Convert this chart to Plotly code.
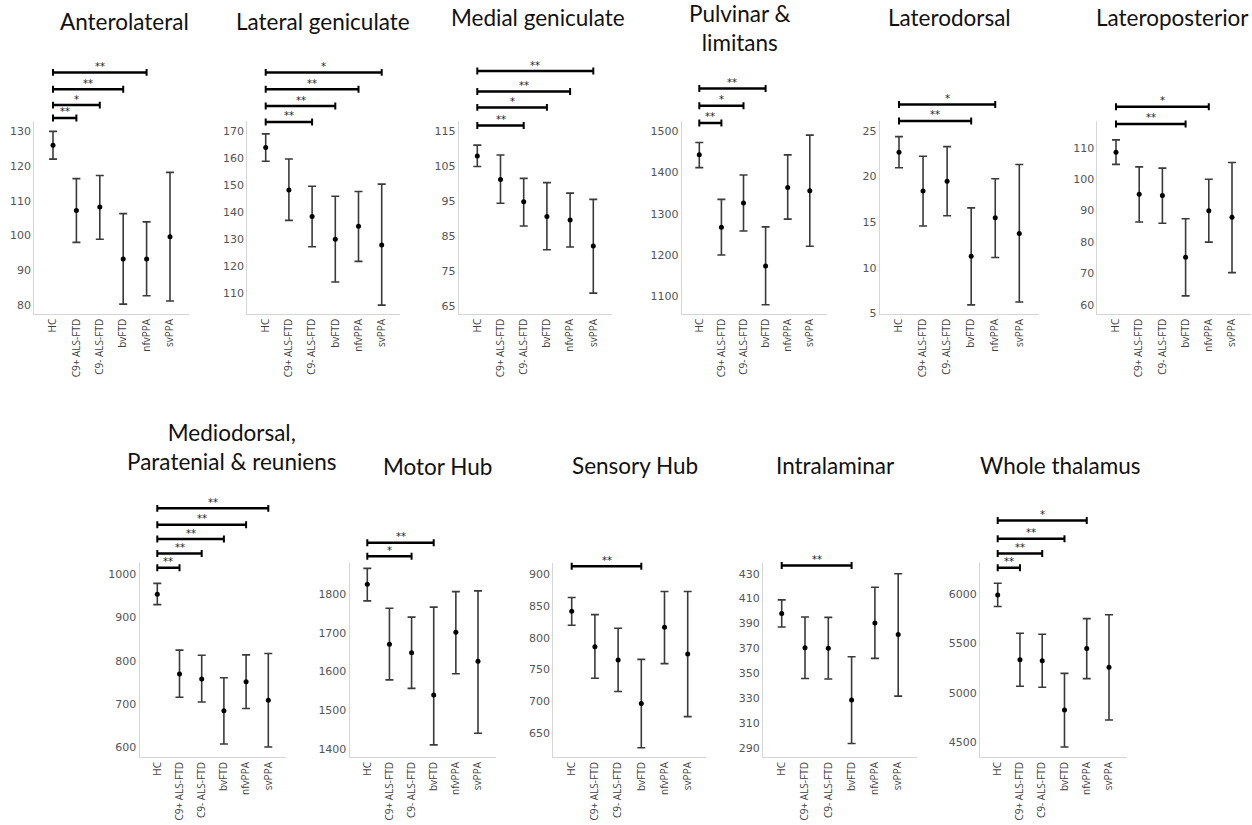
import plotly.graph_objects as go

W, H = 1252, 825

groups = ["HC", "C9+ ALS-FTD", "C9- ALS-FTD", "bvFTD", "nfvPPA", "svPPA"]

titles = ["Anterolateral", "Lateral geniculate", "Medial geniculate", "Pulvinar &<br>limitans",
          "Laterodorsal", "Lateroposterior", "Mediodorsal,<br>Paratenial & reuniens",
          "Motor Hub", "Sensory Hub", "Intralaminar", "Whole thalamus"]

# ---- data: mean, lower and upper bound of interval, y ticks, significant comparisons vs HC
anterolateral_mean = [126.0, 107.2, 108.2, 93.2, 93.2, 99.6]
anterolateral_low = [122.0, 98.0, 98.9, 80.2, 82.6, 81.1]
anterolateral_high = [130.0, 116.4, 117.3, 106.3, 103.9, 118.2]
anterolateral_ticks = [80, 90, 100, 110, 120, 130]
anterolateral_sig = [("C9+ ALS-FTD", "**"), ("C9- ALS-FTD", "*"), ("bvFTD", "**"), ("nfvPPA", "**")]

lateral_gen_mean = [164.0, 148.2, 138.4, 130.0, 134.8, 127.9]
lateral_gen_low = [158.9, 137.0, 127.2, 114.2, 121.8, 105.6]
lateral_gen_high = [169.0, 159.7, 149.6, 145.9, 147.7, 150.4]
lateral_gen_ticks = [110, 120, 130, 140, 150, 160, 170]
lateral_gen_sig = [("C9- ALS-FTD", "**"), ("bvFTD", "**"), ("nfvPPA", "**"), ("svPPA", "*")]

medial_gen_mean = [107.9, 101.2, 94.8, 90.6, 89.6, 82.2]
medial_gen_low = [104.9, 94.4, 87.9, 81.1, 81.9, 68.7]
medial_gen_high = [111.0, 108.2, 101.5, 100.3, 97.3, 95.5]
medial_gen_ticks = [65, 75, 85, 95, 105, 115]
medial_gen_sig = [("C9- ALS-FTD", "**"), ("bvFTD", "*"), ("nfvPPA", "**"), ("svPPA", "**")]

pulvinar_mean = [1443, 1267, 1326, 1173, 1364, 1356]
pulvinar_low = [1412, 1200, 1258, 1079, 1287, 1221]
pulvinar_high = [1473, 1335, 1394, 1268, 1443, 1491]
pulvinar_ticks = [1100, 1200, 1300, 1400, 1500]
pulvinar_sig = [("C9+ ALS-FTD", "**"), ("C9- ALS-FTD", "*"), ("bvFTD", "**")]

laterodorsal_mean = [22.65, 18.41, 19.46, 11.27, 15.48, 13.77]
laterodorsal_low = [20.95, 14.57, 15.70, 5.95, 11.13, 6.27]
laterodorsal_high = [24.35, 22.20, 23.26, 16.56, 19.75, 21.30]
laterodorsal_ticks = [5, 10, 15, 20, 25]
laterodorsal_sig = [("bvFTD", "**"), ("nfvPPA", "*")]

lateroposterior_mean = [108.6, 95.2, 94.8, 75.2, 90.0, 87.9]
lateroposterior_low = [104.7, 86.4, 86.0, 62.9, 80.0, 70.3]
lateroposterior_high = [112.5, 103.9, 103.5, 87.4, 100.0, 105.3]
lateroposterior_ticks = [60, 70, 80, 90, 100, 110]
lateroposterior_sig = [("bvFTD", "**"), ("nfvPPA", "*")]

mediodorsal_mean = [954, 770, 758, 685, 752, 709]
mediodorsal_low = [930, 716, 705, 608, 690, 601]
mediodorsal_high = [979, 825, 813, 761, 814, 817]
mediodorsal_ticks = [600, 700, 800, 900, 1000]
mediodorsal_sig = [("C9+ ALS-FTD", "**"), ("C9- ALS-FTD", "**"), ("bvFTD", "**"), ("nfvPPA", "**"), ("svPPA", "**")]

motor_mean = [1825, 1670, 1648, 1539, 1701, 1626]
motor_low = [1782, 1578, 1556, 1410, 1594, 1440]
motor_high = [1866, 1763, 1740, 1766, 1806, 1808]
motor_ticks = [1400, 1500, 1600, 1700, 1800]
motor_sig = [("C9- ALS-FTD", "*"), ("bvFTD", "**")]

sensory_mean = [841.7, 785.9, 765.1, 696.9, 816.7, 774.5]
sensory_low = [819.8, 736.5, 715.6, 627.0, 759.4, 676.0]
sensory_high = [863.5, 836.5, 815.1, 766.1, 872.9, 872.9]
sensory_ticks = [650, 700, 750, 800, 850, 900]
sensory_sig = [("bvFTD", "**")]

intralaminar_mean = [398.1, 370.5, 370.2, 328.5, 390.4, 381.1]
intralaminar_low = [387.2, 345.8, 345.5, 293.7, 362.0, 331.7]
intralaminar_high = [409.0, 395.2, 394.9, 363.3, 419.1, 430.0]
intralaminar_ticks = [290, 310, 330, 350, 370, 390, 410, 430]
intralaminar_sig = [("bvFTD", "**")]

whole_mean = [5990, 5335, 5325, 4828, 5449, 5259]
whole_low = [5873, 5068, 5058, 4454, 5145, 4727]
whole_high = [6107, 5603, 5593, 5198, 5750, 5790]
whole_ticks = [4500, 5000, 5500, 6000]
whole_sig = [("C9+ ALS-FTD", "**"), ("C9- ALS-FTD", "**"), ("bvFTD", "**"), ("nfvPPA", "*")]

panels_data = [
    (anterolateral_mean, anterolateral_low, anterolateral_high, anterolateral_ticks, anterolateral_sig),
    (lateral_gen_mean, lateral_gen_low, lateral_gen_high, lateral_gen_ticks, lateral_gen_sig),
    (medial_gen_mean, medial_gen_low, medial_gen_high, medial_gen_ticks, medial_gen_sig),
    (pulvinar_mean, pulvinar_low, pulvinar_high, pulvinar_ticks, pulvinar_sig),
    (laterodorsal_mean, laterodorsal_low, laterodorsal_high, laterodorsal_ticks, laterodorsal_sig),
    (lateroposterior_mean, lateroposterior_low, lateroposterior_high, lateroposterior_ticks, lateroposterior_sig),
    (mediodorsal_mean, mediodorsal_low, mediodorsal_high, mediodorsal_ticks, mediodorsal_sig),
    (motor_mean, motor_low, motor_high, motor_ticks, motor_sig),
    (sensory_mean, sensory_low, sensory_high, sensory_ticks, sensory_sig),
    (intralaminar_mean, intralaminar_low, intralaminar_high, intralaminar_ticks, intralaminar_sig),
    (whole_mean, whole_low, whole_high, whole_ticks, whole_sig),
]

# ---- layout (pixels): first-category x, category spacing, plot top, plot bottom, y range,
#      title centre x, title centre y, bracket y (lowest first)
layout_specs = [
    dict(p0=53.0, s=23.4, top=121.7, bot=316.5, yr=[77.4, 133.1], tx=124, ty=22, by=[119, 106, 90, 73]),
    dict(p0=265.7, s=23.2, top=121.7, bot=316.5, yr=[102.4, 173.9], tx=323, ty=22, by=[123, 107, 90, 73]),
    dict(p0=477.3, s=23.2, top=121.7, bot=316.5, yr=[62.8, 118.0], tx=538, ty=18, by=[126.5, 108.3, 92.3, 71.7]),
    dict(p0=699.3, s=22.1, top=121.7, bot=316.5, yr=[1057, 1526], tx=740, ty=28.5, by=[124, 106.7, 89.3]),
    dict(p0=899.0, s=24.06, top=121.7, bot=316.5, yr=[4.97, 26.1], tx=949, ty=18, by=[122, 105.3]),
    dict(p0=1116.0, s=23.2, top=121.7, bot=316.5, yr=[57.2, 118.6], tx=1172, ty=18, by=[125, 107.7]),
    dict(p0=157.3, s=22.2, top=568.3, bot=763.5, yr=[578, 1025], tx=232, ty=451, by=[572.7, 558.3, 543.7, 529.3, 512.7]),
    dict(p0=367.3, s=22.14, top=568.3, bot=763.5, yr=[1378.7, 1878.7], tx=437, ty=470, by=[561, 547.3]),
    dict(p0=571.7, s=23.2, top=568.3, bot=763.5, yr=[612.5, 917.0], tx=635, ty=469, by=[571]),
    dict(p0=781.7, s=23.3, top=568.3, bot=763.5, yr=[282.8, 438.2], tx=835, ty=469, by=[570.3]),
    dict(p0=997.7, s=22.26, top=568.3, bot=763.5, yr=[4353, 6307], tx=1060, ty=469, by=[572.7, 558.3, 543.3, 525]),
]

XR = [-0.8, 5.8]

fig = go.Figure()
shapes = []
annotations = []
lay = dict(width=W, height=H, autosize=False, margin=dict(l=0, r=0, t=0, b=0),
           paper_bgcolor="white", plot_bgcolor="white", showlegend=False)

for i, ((mean, low, high, ticks, sig), sp) in enumerate(zip(panels_data, layout_specs)):
    n = i + 1
    suf = "" if n == 1 else str(n)
    xname, yname = "x" + suf, "y" + suf
    L = sp["p0"] + XR[0] * sp["s"]
    R = sp["p0"] + XR[1] * sp["s"]

    fig.add_trace(go.Scatter(
        x=groups, y=mean, mode="markers",
        marker=dict(color="black", size=5),
        error_y=dict(type="data", symmetric=False,
                     array=[h - m for h, m in zip(high, mean)],
                     arrayminus=[m - l for m, l in zip(mean, low)],
                     color="#3a3a3a", thickness=1.6, width=4),
        xaxis=xname, yaxis=yname, hoverinfo="skip"))

    lay["xaxis" + suf] = dict(
        domain=[L / W, R / W], anchor=yname, type="category",
        categoryorder="array", categoryarray=groups, range=XR,
        showline=True, linecolor="#d6d6d6", linewidth=1, ticks="",
        tickangle=-90, showgrid=False, zeroline=False,
        tickfont=dict(family="Open Sans", size=10, color="#404040"))
    lay["yaxis" + suf] = dict(
        domain=[1 - sp["bot"] / H, 1 - sp["top"] / H], anchor=xname,
        range=sp["yr"], tickvals=ticks, showline=True, linecolor="#d6d6d6",
        linewidth=1, ticks="", showgrid=False, zeroline=False,
        tickfont=dict(family="DejaVu Sans", size=11, color="#555555"))

    annotations.append(dict(
        text=titles[i], x=sp["tx"] / W, y=1 - sp["ty"] / H, xref="paper", yref="paper",
        xanchor="center", yanchor="middle", showarrow=False,
        font=dict(family="Lato", size=22.5, color="#111111")))

    for (target, label), bpx in zip(sig, sp["by"]):
        ti = groups.index(target)
        yp = 1 - bpx / H
        cap = 3.5 / H
        line = dict(color="black", width=2.5)
        shapes.append(dict(type="line", xref=xname, yref="paper", x0=0, x1=ti, y0=yp, y1=yp, line=line))
        shapes.append(dict(type="line", xref=xname, yref="paper", x0=0, x1=0, y0=yp - cap, y1=yp + cap, line=dict(color="black", width=2)))
        shapes.append(dict(type="line", xref=xname, yref="paper", x0=ti, x1=ti, y0=yp - cap, y1=yp + cap, line=dict(color="black", width=2)))
        annotations.append(dict(
            text=label, x=ti / 2, y=yp, xref=xname, yref="paper",
            xanchor="center", yanchor="middle", yshift=6, showarrow=False,
            font=dict(family="DejaVu Sans", size=10, color="#222222")))

lay["shapes"] = shapes
lay["annotations"] = annotations
fig.update_layout(**lay)
fig.write_html("out.html", config={"displayModeBar": False},
               post_script="document.body.style.margin='0';document.body.style.overflow='hidden';")
